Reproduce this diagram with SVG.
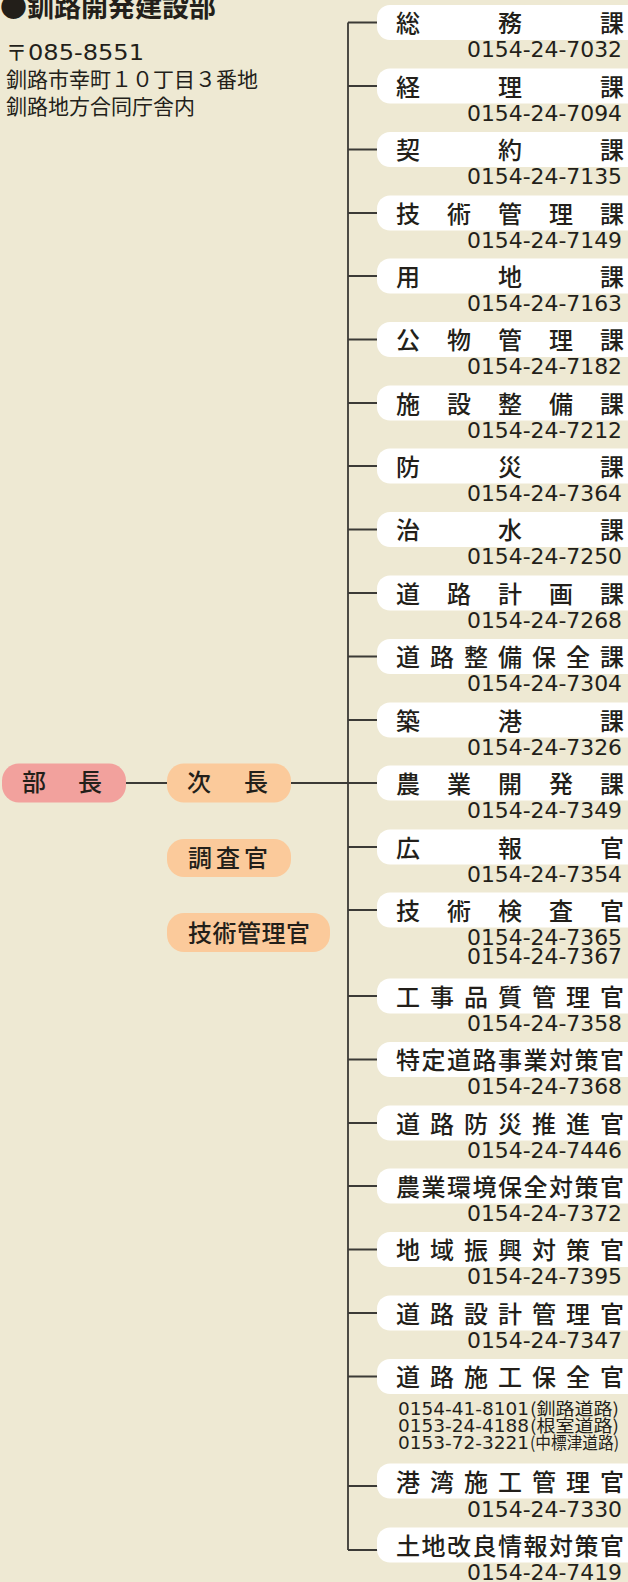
<svg xmlns="http://www.w3.org/2000/svg" width="628" height="1582" viewBox="0 0 628 1582">
<style>
.bg{fill:#eee9d3}
.box{fill:#ffffff}
.t{font-family:"Noto Sans CJK JP","Noto Sans CJK SC",sans-serif;font-size:24px;fill:#231f1a;font-weight:500}
.ph{font-family:"DejaVu Sans","Liberation Sans",sans-serif;font-size:21px;fill:#231f1a}
.ph2{font-family:"DejaVu Sans","Liberation Sans",sans-serif;font-size:17.5px;fill:#231f1a}
.pc{font-family:"Noto Sans CJK JP",sans-serif;font-size:16.5px;fill:#231f1a}
.con{fill:none;stroke:#3b3a36;stroke-width:1.8}
.pink{fill:#f2a19d}.peach{fill:#fbca9b}
.ad{font-family:"Noto Sans CJK JP",sans-serif;font-size:21px;fill:#231f1a}
</style>
<rect class="bg" x="0" y="0" width="628" height="1582"/>
<g id="header">
<text x="0" y="17" font-family="Noto Sans CJK JP, sans-serif" font-size="27" font-weight="bold" fill="#231f1a">●釧路開発建設部</text>
<text class="ad" x="6" y="60">〒</text>
<text font-family="DejaVu Sans, sans-serif" font-size="21" fill="#231f1a" x="28" y="60" textLength="116" lengthAdjust="spacingAndGlyphs">085-8551</text>
<text class="ad" x="6" y="86.5">釧路市幸町１０丁目３番地</text>
<text class="ad" x="6" y="113.5">釧路地方合同庁舎内</text>
</g>
<g id="connectors">
<path class="con" d="M348 22.5V1550M348 22.5H378M348 86H378M348 149.5H378M348 213H378M348 276H378M348 339.5H378M348 403H378M348 466H378M348 529.5H378M348 593H378M348 656.5H378M348 720H378M348 847H378M348 910H378M348 996H378M348 1059.5H378M348 1123H378M348 1186H378M348 1249.5H378M348 1313H378M348 1376.5H378M348 1486H378M348 1550H378M126 783H378"/>
</g>
<g id="bucho"><rect class="pink" x="2" y="763.5" width="124" height="39" rx="17"/><text class="t" x="22 78" y="791">部長</text></g>
<g id="jicho"><rect class="peach" x="167" y="763.5" width="124" height="39" rx="17"/><text class="t" x="187 244" y="791">次長</text></g>
<g id="chosakan"><rect class="peach" x="167" y="839" width="124" height="38" rx="17"/><text class="t" x="188 216 244" y="867">調査官</text></g>
<g id="gijutsukanrikan"><rect class="peach" x="167" y="913" width="163" height="39" rx="17"/><text class="t" x="188 212.5 237 261.5 286" y="941.5">技術管理官</text></g>

<g id="r0"><rect class="box" x="377" y="5" width="270" height="35" rx="13"/><text class="t" x="396 498 600" y="32">総務課</text><text class="ph" x="467" y="57" textLength="155" lengthAdjust="spacingAndGlyphs">0154-24-7032</text></g>
<g id="r1"><rect class="box" x="377" y="68.5" width="270" height="35" rx="13"/><text class="t" x="396 498 600" y="95.5">経理課</text><text class="ph" x="467" y="120.5" textLength="155" lengthAdjust="spacingAndGlyphs">0154-24-7094</text></g>
<g id="r2"><rect class="box" x="377" y="132" width="270" height="35" rx="13"/><text class="t" x="396 498 600" y="159">契約課</text><text class="ph" x="467" y="184" textLength="155" lengthAdjust="spacingAndGlyphs">0154-24-7135</text></g>
<g id="r3"><rect class="box" x="377" y="195.5" width="270" height="35" rx="13"/><text class="t" x="396 447 498 549 600" y="222.5">技術管理課</text><text class="ph" x="467" y="247.5" textLength="155" lengthAdjust="spacingAndGlyphs">0154-24-7149</text></g>
<g id="r4"><rect class="box" x="377" y="258.5" width="270" height="35" rx="13"/><text class="t" x="396 498 600" y="285.5">用地課</text><text class="ph" x="467" y="310.5" textLength="155" lengthAdjust="spacingAndGlyphs">0154-24-7163</text></g>
<g id="r5"><rect class="box" x="377" y="322" width="270" height="35" rx="13"/><text class="t" x="396 447 498 549 600" y="349">公物管理課</text><text class="ph" x="467" y="374" textLength="155" lengthAdjust="spacingAndGlyphs">0154-24-7182</text></g>
<g id="r6"><rect class="box" x="377" y="385.5" width="270" height="35" rx="13"/><text class="t" x="396 447 498 549 600" y="412.5">施設整備課</text><text class="ph" x="467" y="437.5" textLength="155" lengthAdjust="spacingAndGlyphs">0154-24-7212</text></g>
<g id="r7"><rect class="box" x="377" y="448.5" width="270" height="35" rx="13"/><text class="t" x="396 498 600" y="475.5">防災課</text><text class="ph" x="467" y="500.5" textLength="155" lengthAdjust="spacingAndGlyphs">0154-24-7364</text></g>
<g id="r8"><rect class="box" x="377" y="512" width="270" height="35" rx="13"/><text class="t" x="396 498 600" y="539">治水課</text><text class="ph" x="467" y="564" textLength="155" lengthAdjust="spacingAndGlyphs">0154-24-7250</text></g>
<g id="r9"><rect class="box" x="377" y="575.5" width="270" height="35" rx="13"/><text class="t" x="396 447 498 549 600" y="602.5">道路計画課</text><text class="ph" x="467" y="627.5" textLength="155" lengthAdjust="spacingAndGlyphs">0154-24-7268</text></g>
<g id="r10"><rect class="box" x="377" y="639" width="270" height="35" rx="13"/><text class="t" x="396 430 464 498 532 566 600" y="666">道路整備保全課</text><text class="ph" x="467" y="691" textLength="155" lengthAdjust="spacingAndGlyphs">0154-24-7304</text></g>
<g id="r11"><rect class="box" x="377" y="702.5" width="270" height="35" rx="13"/><text class="t" x="396 498 600" y="729.5">築港課</text><text class="ph" x="467" y="754.5" textLength="155" lengthAdjust="spacingAndGlyphs">0154-24-7326</text></g>
<g id="r12"><rect class="box" x="377" y="765.5" width="270" height="35" rx="13"/><text class="t" x="396 447 498 549 600" y="792.5">農業開発課</text><text class="ph" x="467" y="818" textLength="155" lengthAdjust="spacingAndGlyphs">0154-24-7349</text></g>
<g id="r13"><rect class="box" x="377" y="829.5" width="270" height="35" rx="13"/><text class="t" x="396 498 600" y="856.5">広報官</text><text class="ph" x="467" y="881.5" textLength="155" lengthAdjust="spacingAndGlyphs">0154-24-7354</text></g>
<g id="r14"><rect class="box" x="377" y="892.5" width="270" height="35" rx="13"/><text class="t" x="396 447 498 549 600" y="919.5">技術検査官</text><text class="ph" x="467" y="944.5" textLength="155" lengthAdjust="spacingAndGlyphs">0154-24-7365</text><text class="ph" x="467" y="963.5" textLength="155" lengthAdjust="spacingAndGlyphs">0154-24-7367</text></g>
<g id="r15"><rect class="box" x="377" y="978.5" width="270" height="35" rx="13"/><text class="t" x="396 430 464 498 532 566 600" y="1005.5">工事品質管理官</text><text class="ph" x="467" y="1030.5" textLength="155" lengthAdjust="spacingAndGlyphs">0154-24-7358</text></g>
<g id="r16"><rect class="box" x="377" y="1042" width="270" height="35" rx="13"/><text class="t" x="396 421.5 447 472.5 498 523.5 549 574.5 600" y="1069">特定道路事業対策官</text><text class="ph" x="467" y="1094" textLength="155" lengthAdjust="spacingAndGlyphs">0154-24-7368</text></g>
<g id="r17"><rect class="box" x="377" y="1105.5" width="270" height="35" rx="13"/><text class="t" x="396 430 464 498 532 566 600" y="1132.5">道路防災推進官</text><text class="ph" x="467" y="1157.5" textLength="155" lengthAdjust="spacingAndGlyphs">0154-24-7446</text></g>
<g id="r18"><rect class="box" x="377" y="1168.5" width="270" height="35" rx="13"/><text class="t" x="396 421.5 447 472.5 498 523.5 549 574.5 600" y="1195.5">農業環境保全対策官</text><text class="ph" x="467" y="1220.5" textLength="155" lengthAdjust="spacingAndGlyphs">0154-24-7372</text></g>
<g id="r19"><rect class="box" x="377" y="1232" width="270" height="35" rx="13"/><text class="t" x="396 430 464 498 532 566 600" y="1259">地域振興対策官</text><text class="ph" x="467" y="1284" textLength="155" lengthAdjust="spacingAndGlyphs">0154-24-7395</text></g>
<g id="r20"><rect class="box" x="377" y="1295.5" width="270" height="35" rx="13"/><text class="t" x="396 430 464 498 532 566 600" y="1322.5">道路設計管理官</text><text class="ph" x="467" y="1347.5" textLength="155" lengthAdjust="spacingAndGlyphs">0154-24-7347</text></g>
<g id="r21"><rect class="box" x="377" y="1359" width="270" height="35" rx="13"/><text class="t" x="396 430 464 498 532 566 600" y="1386">道路施工保全官</text>
<text class="ph2" x="398" y="1415" textLength="131" lengthAdjust="spacingAndGlyphs">0154-41-8101</text><text class="pc" x="530" y="1415" textLength="89" lengthAdjust="spacingAndGlyphs">(釧路道路)</text>
<text class="ph2" x="398" y="1432" textLength="131" lengthAdjust="spacingAndGlyphs">0153-24-4188</text><text class="pc" x="530" y="1432" textLength="89" lengthAdjust="spacingAndGlyphs">(根室道路)</text>
<text class="ph2" x="398" y="1449" textLength="131" lengthAdjust="spacingAndGlyphs">0153-72-3221</text><text class="pc" x="530" y="1449" textLength="89" lengthAdjust="spacingAndGlyphs">(中標津道路)</text></g>
<g id="r22"><rect class="box" x="377" y="1463.5" width="270" height="35" rx="13"/><text class="t" x="396 430 464 498 532 566 600" y="1490.5">港湾施工管理官</text><text class="ph" x="467" y="1517" textLength="155" lengthAdjust="spacingAndGlyphs">0154-24-7330</text></g>
<g id="r23"><rect class="box" x="377" y="1527.5" width="270" height="35" rx="13"/><text class="t" x="396 421.5 447 472.5 498 523.5 549 574.5 600" y="1554.5">土地改良情報対策官</text><text class="ph" x="467" y="1580" textLength="155" lengthAdjust="spacingAndGlyphs">0154-24-7419</text></g>
</svg>
